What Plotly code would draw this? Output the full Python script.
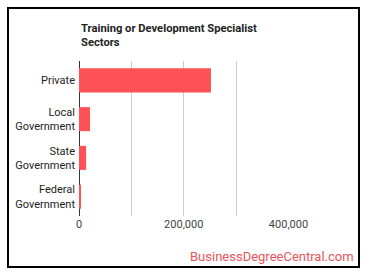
import plotly.graph_objects as go

categories = ["Private", "Local<br>Government", "State<br>Government", "Federal<br>Government"]
values = [252000, 21000, 13500, 2000]
tick_vals = [0, 100000, 200000, 300000, 400000]
tick_text = ["0", "", "200,000", "", "400,000"]
title_lines = ["Training or Development Specialist", "Sectors"]

fig = go.Figure(go.Bar(
    x=values, y=categories, orientation="h",
    marker=dict(color="#ff5256", line=dict(width=0)),
))

W = 210
H = 155
anns = []
for i, line in enumerate(title_lines):
    anns.append(dict(text="<b>%s</b>" % line, xref="paper", yref="paper",
                     x=0, y=(216 - (28 + 14 * i)) / H, xanchor="left", yanchor="middle",
                     align="left", showarrow=False,
                     font=dict(size=11.2, color="#222", family="Roboto")))
anns.append(dict(text="BusinessDegreeCentral.com", xref="paper", yref="paper",
                 x=(356 - 79) / W, y=-(256 - 216) / H, xanchor="right", yanchor="middle",
                 showarrow=False, font=dict(size=13, color="#e8545a", family="Roboto")))

fig.update_layout(
    width=370, height=278,
    margin=dict(l=79, r=81, t=61, b=62, autoexpand=False),
    paper_bgcolor="white", plot_bgcolor="white",
    bargap=0.38,
    showlegend=False,
    font=dict(family="Roboto", size=11, color="#444"),
    xaxis=dict(range=[0, 401000], tickvals=tick_vals, ticktext=tick_text,
               showgrid=True, gridcolor="#cccccc", gridwidth=1,
               zeroline=True, zerolinecolor="#333", zerolinewidth=1,
               ticks="", tickfont=dict(size=11, color="#444"), fixedrange=True),
    yaxis=dict(autorange="reversed", ticks="", ticklabelstandoff=3,
               tickfont=dict(size=11, color="#222"), showgrid=False, fixedrange=True),
    shapes=[dict(type="rect", xref="paper", yref="paper",
                 x0=-71 / W, x1=(359 - 79) / W, y0=-(267 - 216) / H, y1=(216 - 8) / H,
                 line=dict(color="black", width=2), fillcolor="rgba(0,0,0,0)")],
    annotations=anns,
)

fig.write_html("out.html")
